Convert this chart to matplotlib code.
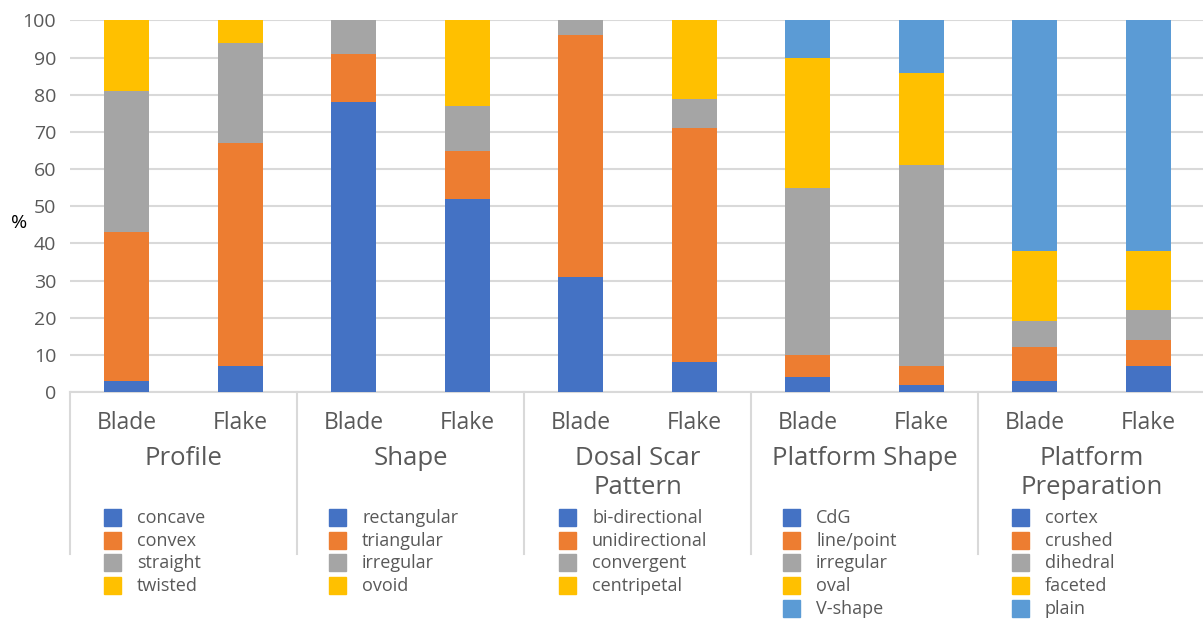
import matplotlib.pyplot as plt
from matplotlib.patches import Rectangle

plt.rcParams['font.family'] = ['Open Sans', 'DejaVu Sans']

groups = ["Profile", "Shape", "Dosal Scar\nPattern", "Platform Shape", "Platform\nPreparation"]
types = ["Blade", "Flake"]

profile_keys = ["concave", "convex", "straight", "twisted"]
profile_blade = [3, 40, 38, 19]
profile_flake = [7, 60, 27, 6]

shape_keys = ["rectangular", "triangular", "irregular", "ovoid"]
shape_blade = [78, 13, 9, 0]
shape_flake = [52, 13, 12, 23]

scar_keys = ["bi-directional", "unidirectional", "convergent", "centripetal"]
scar_blade = [31, 65, 4, 0]
scar_flake = [8, 63, 8, 21]

pshape_keys = ["CdG", "line/point", "irregular", "oval", "V-shape"]
pshape_blade = [4, 6, 45, 35, 10]
pshape_flake = [2, 5, 54, 25, 14]

prep_keys = ["cortex", "crushed", "dihedral", "faceted", "plain"]
prep_blade = [3, 9, 7, 19, 62]
prep_flake = [7, 7, 8, 16, 62]

keys = [profile_keys, shape_keys, scar_keys, pshape_keys, prep_keys]
blades = [profile_blade, shape_blade, scar_blade, pshape_blade, prep_blade]
flakes = [profile_flake, shape_flake, scar_flake, pshape_flake, prep_flake]

colors = ["#4472C4", "#ED7D31", "#A5A5A5", "#FFC000", "#5B9BD5"]
text_col = "#595959"
grid_col = "#D9D9D9"

W, H = 1203, 620
fig = plt.figure(figsize=(W / 100, H / 100), dpi=100)
ax = fig.add_axes([70 / W, 1 - 392 / H, (1205 - 70) / W, (392 - 20.5) / H])

# stacked bars, two per group
for g in range(len(groups)):
    for t, vals in enumerate([blades[g], flakes[g]]):
        x = 2 * g + t
        bottom = 0
        for i, v in enumerate(vals):
            ax.bar(x, v, width=0.4, bottom=bottom, color=colors[i], zorder=3)
            bottom += v

ax.set_xlim(-0.5, 9.5)
ax.set_ylim(0, 100)
ax.set_yticks(range(0, 101, 10))
ax.set_xticks([])
ax.tick_params(axis='y', length=0, pad=10, labelsize=14, labelcolor=text_col)
ax.yaxis.grid(True, color=grid_col, lw=1.5, zorder=0)
for s in ["top", "right", "left"]:
    ax.spines[s].set_visible(False)
ax.spines["bottom"].set_color(grid_col)
ax.spines["bottom"].set_linewidth(1.5)
fig.text(19 / W, 1 - 223 / H, "%", ha="center", va="center", fontsize=14, color="black")

# category block below the axis
tr = ax.get_xaxis_transform()
px = 1 / (392 - 20.5)
for xs in [-0.5, 1.5, 3.5, 5.5, 7.5, 9.5]:
    ax.plot([xs, xs], [0, -(554 - 392) * px], color=grid_col, lw=1.5,
            transform=tr, clip_on=False)

for g, name in enumerate(groups):
    for t, lab in enumerate(types):
        ax.text(2 * g + t, -(423 - 392) * px, lab, transform=tr, ha="center",
                va="center", fontsize=16.5, color=text_col)
    ax.text(2 * g + 0.5, -(446 - 392) * px, name, transform=tr, ha="center",
            va="top", fontsize=18.5, color=text_col, linespacing=1.2)

# per-group legends
mark_x = [104, 329, 559, 783, 1012]
row_y = [518, 540.5, 563, 586, 609]
for g in range(len(groups)):
    for i, k in enumerate(keys[g]):
        y = row_y[i]
        fig.patches.append(Rectangle((mark_x[g] / W, 1 - (y + 8) / H), 17 / W, 17 / H,
                                     transform=fig.transFigure, color=colors[i]))
        fig.text((mark_x[g] + 33) / W, 1 - y / H, k, ha="left", va="center",
                 fontsize=13, color=text_col)

fig.savefig("out.png", dpi=100)
